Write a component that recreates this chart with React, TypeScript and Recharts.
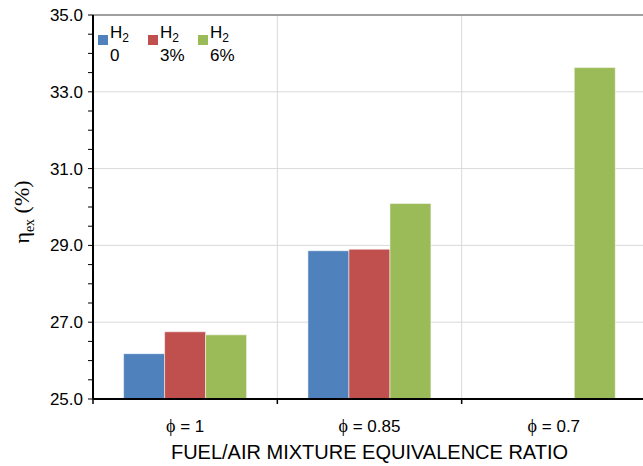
import React from 'react';
import {
  BarChart,
  Bar,
  XAxis,
  YAxis,
  CartesianGrid,
  ReferenceLine
} from 'recharts';

// values
const categories = ['ϕ = 1', 'ϕ = 0.85', 'ϕ = 0.7'];
const h2_0 = [26.18, 28.86, null];
const h2_3 = [26.75, 28.9, null];
const h2_6 = [26.67, 30.09, 33.63];
const yTicks = [25, 25.5, 26, 26.5, 27, 27.5, 28, 28.5, 29, 29.5, 30, 30.5, 31, 31.5, 32, 32.5, 33, 33.5, 34, 34.5, 35];
const yMajor = [27, 29, 31, 33];
const legendItems = [
  { key: 'h2_0', label: '0', color: '#4F81BD' },
  { key: 'h2_3', label: '3%', color: '#C0504D' },
  { key: 'h2_6', label: '6%', color: '#9BBB59' }
];

const data = categories.map((phi, i) => ({
  phi,
  h2_0: h2_0[i],
  h2_3: h2_3[i],
  h2_6: h2_6[i]
}));

const CHART_W = 646;
const CHART_H = 466;
const Y_AXIS_W = 93;
const BAND = (CHART_W - Y_AXIS_W) / categories.length;
const FONT = '"Liberation Sans", Arial, sans-serif';
const SERIF = '"Liberation Serif", "Times New Roman", serif';

const PhiTick = ({ x, y, payload }: any) => {
  const left = x - BAND / 2;
  const [sym, ...rest] = String(payload.value).split(' ');
  return (
    <g>
      <line x1={left} y1={y} x2={left} y2={y + 5} stroke="#000" strokeWidth={1.5} />
      <text x={x} y={y + 33} textAnchor="middle" fontSize={17} fontFamily={FONT} fill="#000">
        <tspan fontFamily={SERIF} fontSize={18}>{sym}</tspan>
        <tspan>{' ' + rest.join(' ')}</tspan>
      </text>
    </g>
  );
};

// legend drawn as an overlay so it does not push the plot down
const LegendBox = () => (
  <div style={{ position: 'absolute', left: 98, top: 22, width: 160, height: 50, fontFamily: FONT, fontSize: 17, color: '#000' }}>
    {legendItems.map((it, i) => (
      <div key={it.key} style={{ position: 'absolute', left: i * 50, top: 0 }}>
        <div style={{ position: 'absolute', left: 0, top: 13, width: 10, height: 10, background: it.color }} />
        <div style={{ position: 'absolute', left: 12, top: 0, lineHeight: '22px', whiteSpace: 'nowrap' }}>
          H<span style={{ fontSize: 12, position: 'relative', top: 4 }}>2</span>
          <br />
          {it.label}
        </div>
      </div>
    ))}
  </div>
);

export default function App() {
  return (
    <div style={{ position: 'absolute', left: 0, top: 0, width: 643, height: 466, overflow: 'hidden', background: '#fff' }}>
      <BarChart
        width={CHART_W}
        height={CHART_H}
        data={data}
        margin={{ top: 15, right: 0, left: 0, bottom: 0 }}
        barCategoryGap="16.6%"
        barGap={0}
      >
        <CartesianGrid
          stroke="#d9d9d9"
          horizontalCoordinatesGenerator={({ offset }: any) =>
            yMajor.map((v) => offset.top + (offset.height * (35 - v)) / 10)
          }
          verticalCoordinatesGenerator={({ offset }: any) =>
            [1, 2].map((i) => offset.left + (offset.width * i) / categories.length)
          }
        />
        <ReferenceLine y={35} stroke="#7f7f7f" strokeWidth={1.5} />
        <XAxis
          dataKey="phi"
          height={67}
          axisLine={{ stroke: '#000', strokeWidth: 2 }}
          tickLine={false}
          tickSize={0}
          tickMargin={0}
          interval={0}
          tick={<PhiTick />}
        />
        <YAxis
          width={Y_AXIS_W}
          domain={[25, 35]}
          ticks={yTicks}
          interval={0}
          allowDataOverflow
          axisLine={{ stroke: '#000', strokeWidth: 2 }}
          tickLine={{ stroke: '#000' }}
          tickSize={5}
          tickMargin={5}
          tick={{ fontSize: 17, fill: '#000', fontFamily: FONT }}
          tickFormatter={(v: number) => (yMajor.includes(v) || v === 25 || v === 35 ? v.toFixed(1) : '')}
        />
        {legendItems.map((it) => (
          <Bar
            key={it.key}
            dataKey={it.key}
            fill={it.color}
            stroke="#ffffff"
            strokeOpacity={0.5}
            isAnimationActive={false}
          />
        ))}
      </BarChart>
      <LegendBox />
      <div
        style={{
          position: 'absolute',
          left: 22,
          top: 212,
          transform: 'translate(-50%, -50%) rotate(-90deg)',
          fontFamily: SERIF,
          fontSize: 22,
          whiteSpace: 'nowrap',
          color: '#000'
        }}
      >
        η<span style={{ fontSize: 14, position: 'relative', top: 5 }}>ex</span> (%)
      </div>
      <div
        style={{
          position: 'absolute',
          left: Y_AXIS_W,
          width: CHART_W - Y_AXIS_W,
          top: 442,
          lineHeight: '20px',
          fontSize: 20,
          fontFamily: FONT,
          textAlign: 'center',
          color: '#000',
          whiteSpace: 'nowrap'
        }}
      >
        FUEL/AIR MIXTURE EQUIVALENCE RATIO
      </div>
    </div>
  );
}
